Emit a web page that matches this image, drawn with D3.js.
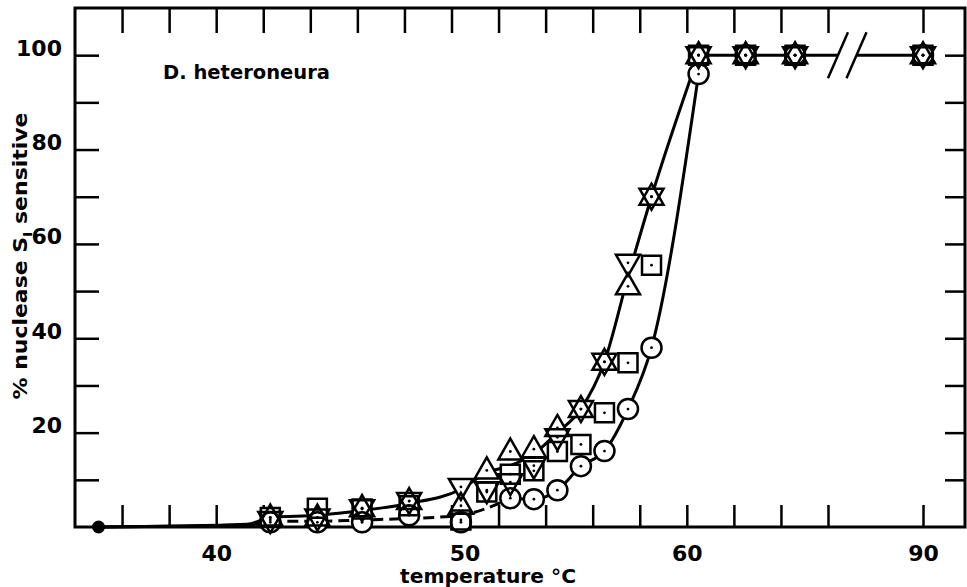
<!DOCTYPE html>
<html><head><meta charset="utf-8">
<script src="https://cdn.jsdelivr.net/npm/d3@7"></script>
<style>body{margin:0;background:#fff}svg{display:block}</style>
</head><body>
<svg id="chart" width="967" height="587"></svg>
<script>
// ---- data ----
const temps        = [42.3, 44.3, 46.2, 48.2, 50.4, 51.5, 52.5, 53.5, 54.5, 55.5, 56.5, 57.5, 58.5, 60.5, 62.5, 64.6, 90];
const upTriangle   = [2,    2,    4,    5.5,  4.5,  12,   16,   16.5, 21,   25,   35,   51,   70,   100,  100,  100,  100];
const downTriangle = [1.5,  2,    4,    5.5,  8.5,  7.8,  9.5,  13,   19,   25,   35,   56,   70,   100,  100,  100,  100];
const squareVals   = [2,    4,    3.8,  4.5,  1.5,  7.4,  11.2, 11.9, 16,   17.5, 24.2, 34.8, 55.5, 100,  100,  100,  100];
const circleVals   = [1,    1,    1,    2.5,  1,    null, 6.1,  5.9,  7.8,  12.9, 16.1, 25,   38,   96,   100,  100,  100];
const startTemp  = [35];
const startValue = [0];
// fitted curves as drawn
const upperCurveT = [35, 41.3, 42.3, 44.3, 46.2, 48.2, 50.4, 51.5, 52.5, 53.5, 54.5, 55.5, 56.5, 57.5, 58.5, 60.5, 62.5, 64.6, 90];
const upperCurveV = [0,  0.6,  2,    2.5,  3.5,  5,    8,    11.5, 13,   15.5, 20,   25,   35,   53,   70,   100,  100,  100,  100];
const lowerCurveT = [35, 41.3, 42.3, 44.3, 46.2, 48.2, 50.4, 52.5, 53.5, 54.5, 55.5, 56.5, 57.5, 58.5, 60.5];
const lowerCurveV = [0,  0.4,  1.2,  1.2,  1.5,  1.8,  2.5,  6.1,  5.9,  7.8,  12.9, 16.1, 25,   38,   96];
const xTicks = [36, 38, 40, 42, 44, 46, 48, 50, 52, 54, 56, 58, 60, 62, 64, 66, 90];
const xTickLabels = [40, 50, 60, 90];
const yTicks = [10, 20, 30, 40, 50, 60, 70, 80, 90, 100];
const yTickLabels = [20, 40, 60, 80, 100];

// ---- layout ----
const L = 75, R = 965, T = 8, B = 527;
const svg = d3.select("#chart");
const FONT = "'DejaVu Sans', sans-serif";

const x = d3.scaleLinear().domain([34, 66, 90, 91.8]).range([L, 828, 923, R]);
const y = d3.scaleLinear().domain([0, 110]).range([B, T]);

// axes
const gB = svg.append("g").attr("transform", `translate(0,${B})`)
  .call(d3.axisBottom(x).tickValues(xTicks).tickSize(-22).tickSizeOuter(0).tickPadding(18)
    .tickFormat(d => xTickLabels.includes(d) ? d : ""));
const gT = svg.append("g").attr("transform", `translate(0,${T})`)
  .call(d3.axisTop(x).tickValues(xTicks).tickSize(-25).tickSizeOuter(0).tickFormat(""));
const gL = svg.append("g").attr("transform", `translate(${L},0)`)
  .call(d3.axisLeft(y).tickValues(yTicks).tickSize(-24).tickSizeOuter(0).tickPadding(13)
    .tickFormat(d => yTickLabels.includes(d) ? d : ""));
const gR = svg.append("g").attr("transform", `translate(${R},0)`)
  .call(d3.axisRight(y).tickValues(yTicks).tickSize(-20).tickSizeOuter(0).tickFormat(""));
[gB, gT, gL, gR].forEach(g => {
  g.select(".domain").remove();
  g.selectAll(".tick line").attr("stroke", "#000").attr("stroke-width", 2.5);
  g.selectAll("text").attr("font-family", FONT).attr("font-weight", "bold")
    .attr("font-size", 22).attr("fill", "#000");
});
gL.selectAll(".tick text").attr("transform", "translate(0,-7)");
gB.selectAll(".tick text").filter(d => d === 50).attr("dx", 13);

// frame
svg.append("rect").attr("x", L).attr("y", T).attr("width", R - L).attr("height", B - T)
  .attr("fill", "none").attr("stroke", "#000").attr("stroke-width", 3);

// curves
const lineGen = d3.line().x(d => x(d[0])).y(d => y(d[1])).curve(d3.curveMonotoneX);
const upperPts = upperCurveT.map((t, i) => [t, upperCurveV[i]]);
const lowerPts = lowerCurveT.map((t, i) => [t, lowerCurveV[i]]);
const stroke = p => p.attr("fill", "none").attr("stroke", "#000").attr("stroke-width", 3);
svg.append("path").attr("d", lineGen(upperPts.filter(p => p[0] <= 60.5))).call(stroke);
svg.append("path").attr("d", lineGen(upperPts.filter(p => p[0] >= 60.5))).call(stroke);
svg.append("path").attr("d", lineGen(lowerPts.filter(p => p[0] <= 42.3))).call(stroke);
svg.append("path").attr("d", lineGen(lowerPts.filter(p => p[0] >= 42.3 && p[0] <= 52.5))).call(stroke)
  .attr("stroke-dasharray", "11,6");
svg.append("path").attr("d", lineGen(lowerPts.filter(p => p[0] >= 52.5))).call(stroke);

// axis break on the 100% line
const bx0 = x(66), bx1 = x(90);
const b1 = bx0 + 0.105 * (bx1 - bx0), b2 = bx0 + 0.3 * (bx1 - bx0);
const by = y(100);
svg.append("polygon")
  .attr("points", `${b1 - 10},${by + 23} ${b1 + 10},${by - 23} ${b2 + 10},${by - 23} ${b2 - 10},${by + 23}`)
  .attr("fill", "#fff");
[b1, b2].forEach(bx => svg.append("line")
  .attr("x1", bx - 10).attr("y1", by + 23).attr("x2", bx + 10).attr("y2", by - 23)
  .attr("stroke", "#000").attr("stroke-width", 2.5));

// symbols
const shapes = {
  up: "M0,-13L12,8L-12,8Z",
  down: "M0,13L12,-8L-12,-8Z",
  square: "M-9.5,-9.5h19v19h-19Z",
  circle: "M10,0A10,10 0 1,1 -10,0A10,10 0 1,1 10,0Z"
};
const series = [
  { vals: squareVals, shape: "square" },
  { vals: circleVals, shape: "circle" },
  { vals: upTriangle, shape: "up" },
  { vals: downTriangle, shape: "down" }
];
const pts = [];
series.forEach(s => temps.forEach((t, i) => {
  if (s.vals[i] != null) pts.push({ t, v: s.vals[i], shape: s.shape });
}));
const gm = svg.append("g");
gm.selectAll("path.mask").data(pts).join("path")
  .attr("d", d => shapes[d.shape])
  .attr("transform", d => `translate(${x(d.t)},${y(d.v)})`)
  .attr("fill", "#fff").attr("stroke", "none");
gm.selectAll("path.outline").data(pts).join("path")
  .attr("d", d => shapes[d.shape])
  .attr("transform", d => `translate(${x(d.t)},${y(d.v)})`)
  .attr("fill", "none").attr("stroke", "#000").attr("stroke-width", 2.5).attr("stroke-linejoin", "miter");
gm.selectAll("circle.dot").data(pts).join("circle")
  .attr("cx", d => x(d.t)).attr("cy", d => y(d.v)).attr("r", 1.4).attr("fill", "#000");

// start point (filled)
svg.selectAll("circle.start").data(startTemp).join("circle")
  .attr("cx", d => x(d)).attr("cy", (d, i) => y(startValue[i])).attr("r", 6.5).attr("fill", "#000");

// texts
svg.append("text").attr("x", 163).attr("y", 79)
  .attr("font-family", FONT).attr("font-weight", "bold").attr("font-size", 20)
  .attr("textLength", 167).attr("lengthAdjust", "spacingAndGlyphs")
  .text("D. heteroneura");
svg.append("text").attr("x", 488).attr("y", 583).attr("text-anchor", "middle")
  .attr("font-family", FONT).attr("font-weight", "bold").attr("font-size", 19)
  .attr("textLength", 176).attr("lengthAdjust", "spacingAndGlyphs")
  .text("temperature °C");
const yt = svg.append("text").attr("transform", "translate(27,256) rotate(-90)")
  .attr("text-anchor", "middle")
  .attr("font-family", FONT).attr("font-weight", "bold").attr("font-size", 20)
  .attr("textLength", 287).attr("lengthAdjust", "spacingAndGlyphs");
yt.append("tspan").text("% nuclease S");
yt.append("tspan").attr("font-size", 13).attr("dy", 5).text("I");
yt.append("tspan").attr("dy", -5).text(" sensitive");
</script>
</body></html>
